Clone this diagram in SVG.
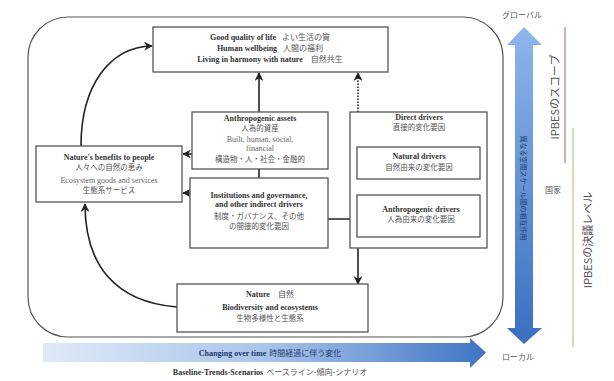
<svg xmlns="http://www.w3.org/2000/svg" width="614" height="381" viewBox="0 0 614 381">
<style>
.box{fill:#fff;stroke:#555;stroke-width:1.3}
.en{font-family:"Liberation Serif",serif;font-weight:bold;font-size:8px;fill:#333;text-anchor:middle}
.enr{font-family:"Liberation Serif",serif;font-size:8px;fill:#666;text-anchor:middle}
.jp{font-family:"Noto Sans CJK JP",sans-serif;font-size:7.5px;fill:#555;text-anchor:middle}
.mix{font-family:"Liberation Serif","Noto Sans CJK JP",serif;font-weight:bold;font-size:8px;fill:#333;text-anchor:middle}
.con{fill:none;stroke:#222;stroke-width:1.6}
.side{font-family:"Noto Sans CJK JP",sans-serif;fill:#555}
</style>
<defs>
<marker id="ah" viewBox="0 0 10 10" refX="9" refY="5" markerWidth="5.5" markerHeight="5.5" orient="auto">
<path d="M0,0 L10,5 L0,10 L3,5 Z" fill="#222"/>
</marker>
<linearGradient id="hg" x1="0" y1="0" x2="1" y2="0">
<stop offset="0" stop-color="#dfeaf8"/>
<stop offset="0.5" stop-color="#a9c4ea"/>
<stop offset="1" stop-color="#3f74c4"/>
</linearGradient>
<linearGradient id="vg" x1="0" y1="0" x2="0" y2="1">
<stop offset="0" stop-color="#8db6ec"/>
<stop offset="1" stop-color="#3a6fc0"/>
</linearGradient>
</defs>

<rect x="28" y="17" width="475" height="320" rx="40" ry="40" fill="none" stroke="#555" stroke-width="1.2"/>

<g id="connectors">
<path class="con" d="M81,146 C81,85 110,47 152,46" marker-end="url(#ah)"/>
<path class="con" d="M177,307 C115,302 85,265 85,204" marker-end="url(#ah)"/>
<path class="con" d="M259,112 L259,73" marker-end="url(#ah)"/>
<path class="con" d="M259,169 L259,178"/>
<path class="con" d="M192,154 L183,154" marker-end="url(#ah)"/>
<path class="con" d="M190,193 L183,193" marker-end="url(#ah)"/>
<path class="con" d="M328,219 L363,219" marker-end="url(#ah)"/>
<path class="con" d="M358,112 L358,73" stroke-dasharray="1.5,1.5" marker-end="url(#ah)"/>
<path class="con" d="M358,248 L358,284" marker-end="url(#ah)"/>
</g>

<g id="quality">
<rect class="box" x="153" y="27" width="235" height="45"/>
<text class="mix" x="270" y="40">Good quality of life<tspan dx="6" font-weight="normal" fill="#555">よい生活の質</tspan></text>
<text class="mix" x="270" y="51">Human wellbeing<tspan dx="6" font-weight="normal" fill="#555">人間の福利</tspan></text>
<text class="mix" x="270" y="62">Living in harmony with nature<tspan dx="8" font-weight="normal" fill="#555">自然共生</tspan></text>
</g>

<g id="assets">
<rect class="box" x="192" y="112" width="136" height="57"/>
<text class="en" x="260" y="121">Anthropogenic assets</text>
<text class="jp" x="260" y="131">人為的資産</text>
<text class="enr" x="260" y="142">Built, human, social,</text>
<text class="enr" x="260" y="151">financial</text>
<text class="jp" x="260" y="162">構造物・人・社会・金融的</text>
</g>

<g id="benefits">
<rect class="box" x="36" y="146" width="146" height="56"/>
<text class="en" x="109" y="160">Nature's benefits to people</text>
<text class="jp" x="109" y="170">人々への自然の恵み</text>
<text class="enr" x="109" y="183">Ecosystem goods and services</text>
<text class="jp" x="109" y="193">生態系サービス</text>
</g>

<g id="institutions">
<rect class="box" x="190" y="178" width="138" height="70"/>
<text class="en" x="259" y="198">Institutions and governance,</text>
<text class="en" x="259" y="207">and other indirect drivers</text>
<text class="jp" x="259" y="219">制度・ガバナンス、その他</text>
<text class="jp" x="259" y="229">の間接的変化要因</text>
</g>

<g id="direct">
<rect class="box" x="350" y="112" width="137" height="136"/>
<text class="en" x="419" y="120">Direct drivers</text>
<text class="jp" x="419" y="130">直接的変化要因</text>
</g>

<g id="natural">
<rect class="box" x="357" y="147" width="123" height="32"/>
<text class="en" x="419" y="159">Natural drivers</text>
<text class="jp" x="419" y="170">自然由来の変化要因</text>
</g>

<g id="anthro">
<rect class="box" x="357" y="195" width="123" height="42"/>
<text class="en" x="421" y="212">Anthropogenic drivers</text>
<text class="jp" x="421" y="222">人為由来の変化要因</text>
</g>

<g id="nature">
<rect class="box" x="177" y="284" width="191" height="48"/>
<text class="mix" x="270" y="297">Nature<tspan dx="8" font-weight="normal" fill="#555">自然</tspan></text>
<text class="en" x="270" y="310">Biodiversity and ecosystems</text>
<text class="jp" x="270" y="321">生物多様性と生態系</text>
</g>

<g id="time">
<path d="M43,343 L470,343 L470,338 L486,352.5 L470,368 L470,362 L43,362 Z" fill="url(#hg)"/>
<text class="mix" x="270" y="356" style="fill:#1f3a6a">Changing over time<tspan dx="3" font-weight="normal">時間経過に伴う変化</tspan></text>
<text class="mix" x="270" y="375" style="fill:#333">Baseline-Trends-Scenarios<tspan dx="3" font-weight="normal" fill="#555">ベースライン-傾向-シナリオ</tspan></text>
</g>

<g id="scale">
<path d="M524,27 L542,45 L533,45 L533,328 L542,328 L524,344 L507,328 L515,328 L515,45 L507,45 Z" fill="url(#vg)"/>
<text class="side" x="0" y="0" font-size="7" style="fill:#1f3a6a" transform="translate(521,188) rotate(90)" text-anchor="middle">異なる空間スケール間の相互作用</text>
<text class="side" x="522" y="18" font-size="8" text-anchor="middle">グローバル</text>
<text class="side" x="518" y="360" font-size="8" text-anchor="middle">ローカル</text>
</g>

<g id="levels">
<line x1="565" y1="27" x2="565" y2="163" stroke="#c89a9a" stroke-width="1.5"/>
<line x1="573" y1="128" x2="573" y2="347" stroke="#cccc99" stroke-width="1.5"/>
<text class="side" font-size="11" transform="translate(559,97) rotate(-90)" text-anchor="middle">IPBESのスコープ</text>
<text class="side" x="553" y="193" font-size="8" text-anchor="middle">国家</text>
<text class="side" font-size="11" transform="translate(592,240) rotate(-90)" text-anchor="middle">IPBESの決議レベル</text>
</g>
</svg>
